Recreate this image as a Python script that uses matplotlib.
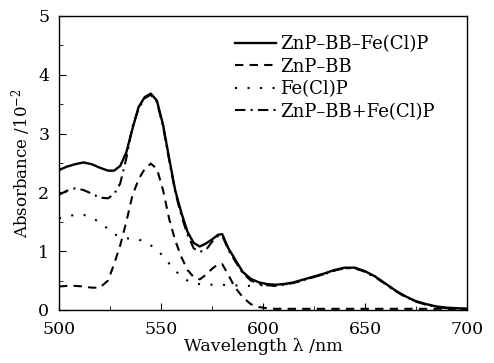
import matplotlib
matplotlib.use("Agg")
import matplotlib.pyplot as plt
from matplotlib.ticker import MultipleLocator

plt.rcParams['font.family'] = ['DejaVu Serif']
plt.rcParams['mathtext.fontset'] = 'dejavuserif'

wavelength = [500, 504, 508, 512, 516, 520, 524, 527, 530, 533, 536, 539, 542, 545, 548,
              551, 554, 557, 560, 563, 566, 569, 572, 575, 578, 580, 583, 586, 590, 594,
              598, 602, 606, 610, 615, 620, 625, 630, 635, 640, 645, 650, 655, 660, 665,
              670, 675, 680, 685, 690, 695, 700]

znp_bb_fe = [2.38, 2.44, 2.48, 2.51, 2.48, 2.42, 2.37, 2.37, 2.45, 2.68, 3.08, 3.45, 3.62, 3.68, 3.56,
             3.15, 2.58, 2.03, 1.65, 1.33, 1.14, 1.08, 1.13, 1.20, 1.28, 1.29, 1.05, 0.88, 0.65, 0.53,
             0.47, 0.44, 0.43, 0.44, 0.47, 0.52, 0.57, 0.62, 0.68, 0.72, 0.72, 0.66, 0.57, 0.45, 0.33,
             0.23, 0.15, 0.10, 0.06, 0.04, 0.03, 0.02]

znp_bb = [0.40, 0.41, 0.41, 0.40, 0.38, 0.38, 0.50, 0.78, 1.10, 1.50, 1.95, 2.22, 2.40, 2.49, 2.40,
          2.04, 1.55, 1.18, 0.90, 0.68, 0.56, 0.52, 0.60, 0.70, 0.78, 0.78, 0.60, 0.40, 0.22, 0.10,
          0.05, 0.03, 0.02, 0.02, 0.02, 0.02, 0.02, 0.02, 0.02, 0.02, 0.02, 0.02, 0.02, 0.02, 0.02,
          0.02, 0.02, 0.02, 0.02, 0.02, 0.02, 0.02]

fe_cl_p = [1.56, 1.59, 1.62, 1.62, 1.57, 1.49, 1.38, 1.29, 1.25, 1.22, 1.21, 1.20, 1.16, 1.10, 1.02,
           0.92, 0.79, 0.67, 0.57, 0.50, 0.46, 0.44, 0.43, 0.43, 0.43, 0.43, 0.42, 0.42, 0.41, 0.41,
           0.42, 0.42, 0.41, 0.43, 0.46, 0.51, 0.56, 0.61, 0.67, 0.71, 0.71, 0.65, 0.56, 0.44, 0.32,
           0.22, 0.14, 0.09, 0.05, 0.03, 0.02, 0.02]

znp_bb_plus_fe = [1.96, 2.03, 2.07, 2.04, 1.98, 1.91, 1.90, 1.97, 2.15, 2.58, 3.12, 3.42, 3.60, 3.66, 3.54,
                  3.12, 2.55, 2.00, 1.60, 1.28, 1.05, 0.99, 1.02, 1.16, 1.26, 1.27, 1.02, 0.85, 0.63, 0.50,
                  0.45, 0.42, 0.41, 0.43, 0.46, 0.51, 0.56, 0.61, 0.67, 0.71, 0.71, 0.65, 0.56, 0.44, 0.32,
                  0.22, 0.14, 0.09, 0.05, 0.03, 0.02, 0.02]

labels = ['ZnP\u2013BB\u2013Fe(Cl)P', 'ZnP\u2013BB', 'Fe(Cl)P', 'ZnP\u2013BB+Fe(Cl)P']

fig = plt.figure(figsize=(4.94, 3.63), dpi=100)
ax = fig.add_axes([59/494, 1 - 310/363, 408/494, 294/363])

ax.plot(wavelength, znp_bb_fe, color='black', lw=1.7, label=labels[0])
ax.plot(wavelength, znp_bb, color='black', lw=1.5, dashes=(4, 3), label=labels[1])
ax.plot(wavelength, fe_cl_p, color='black', lw=1.5, dashes=(1, 5), label=labels[2])
ax.plot(wavelength, znp_bb_plus_fe, color='black', lw=1.5, dashes=(5, 2.5, 1, 2.5), label=labels[3])

ax.set_xlim(500, 700)
ax.set_ylim(0, 5)
ax.xaxis.set_major_locator(MultipleLocator(50))
ax.xaxis.set_minor_locator(MultipleLocator(25))
ax.yaxis.set_major_locator(MultipleLocator(1))
ax.yaxis.set_minor_locator(MultipleLocator(0.5))
ax.tick_params(which='both', direction='in', top=False, right=False, labelsize=12.5)
ax.tick_params(which='major', length=5, width=0.8)
ax.tick_params(which='minor', length=3, width=0.6)
ax.tick_params(axis='y', which='major', pad=7)
ax.tick_params(axis='x', which='major', pad=8)
for s in ax.spines.values():
    s.set_linewidth(1.0)

ax.set_xlabel('Wavelength \u03bb /nm', fontsize=12.5, labelpad=0)
ax.set_ylabel('Absorbance /10$^{-2}$', fontsize=12, labelpad=4)

ax.legend(loc='upper left', bbox_to_anchor=(0.431, 0.935), frameon=False, fontsize=13,
          handlelength=2.3, handletextpad=0.2, labelspacing=0.25, borderpad=0, borderaxespad=0)

fig.savefig('out.png', dpi=100)
